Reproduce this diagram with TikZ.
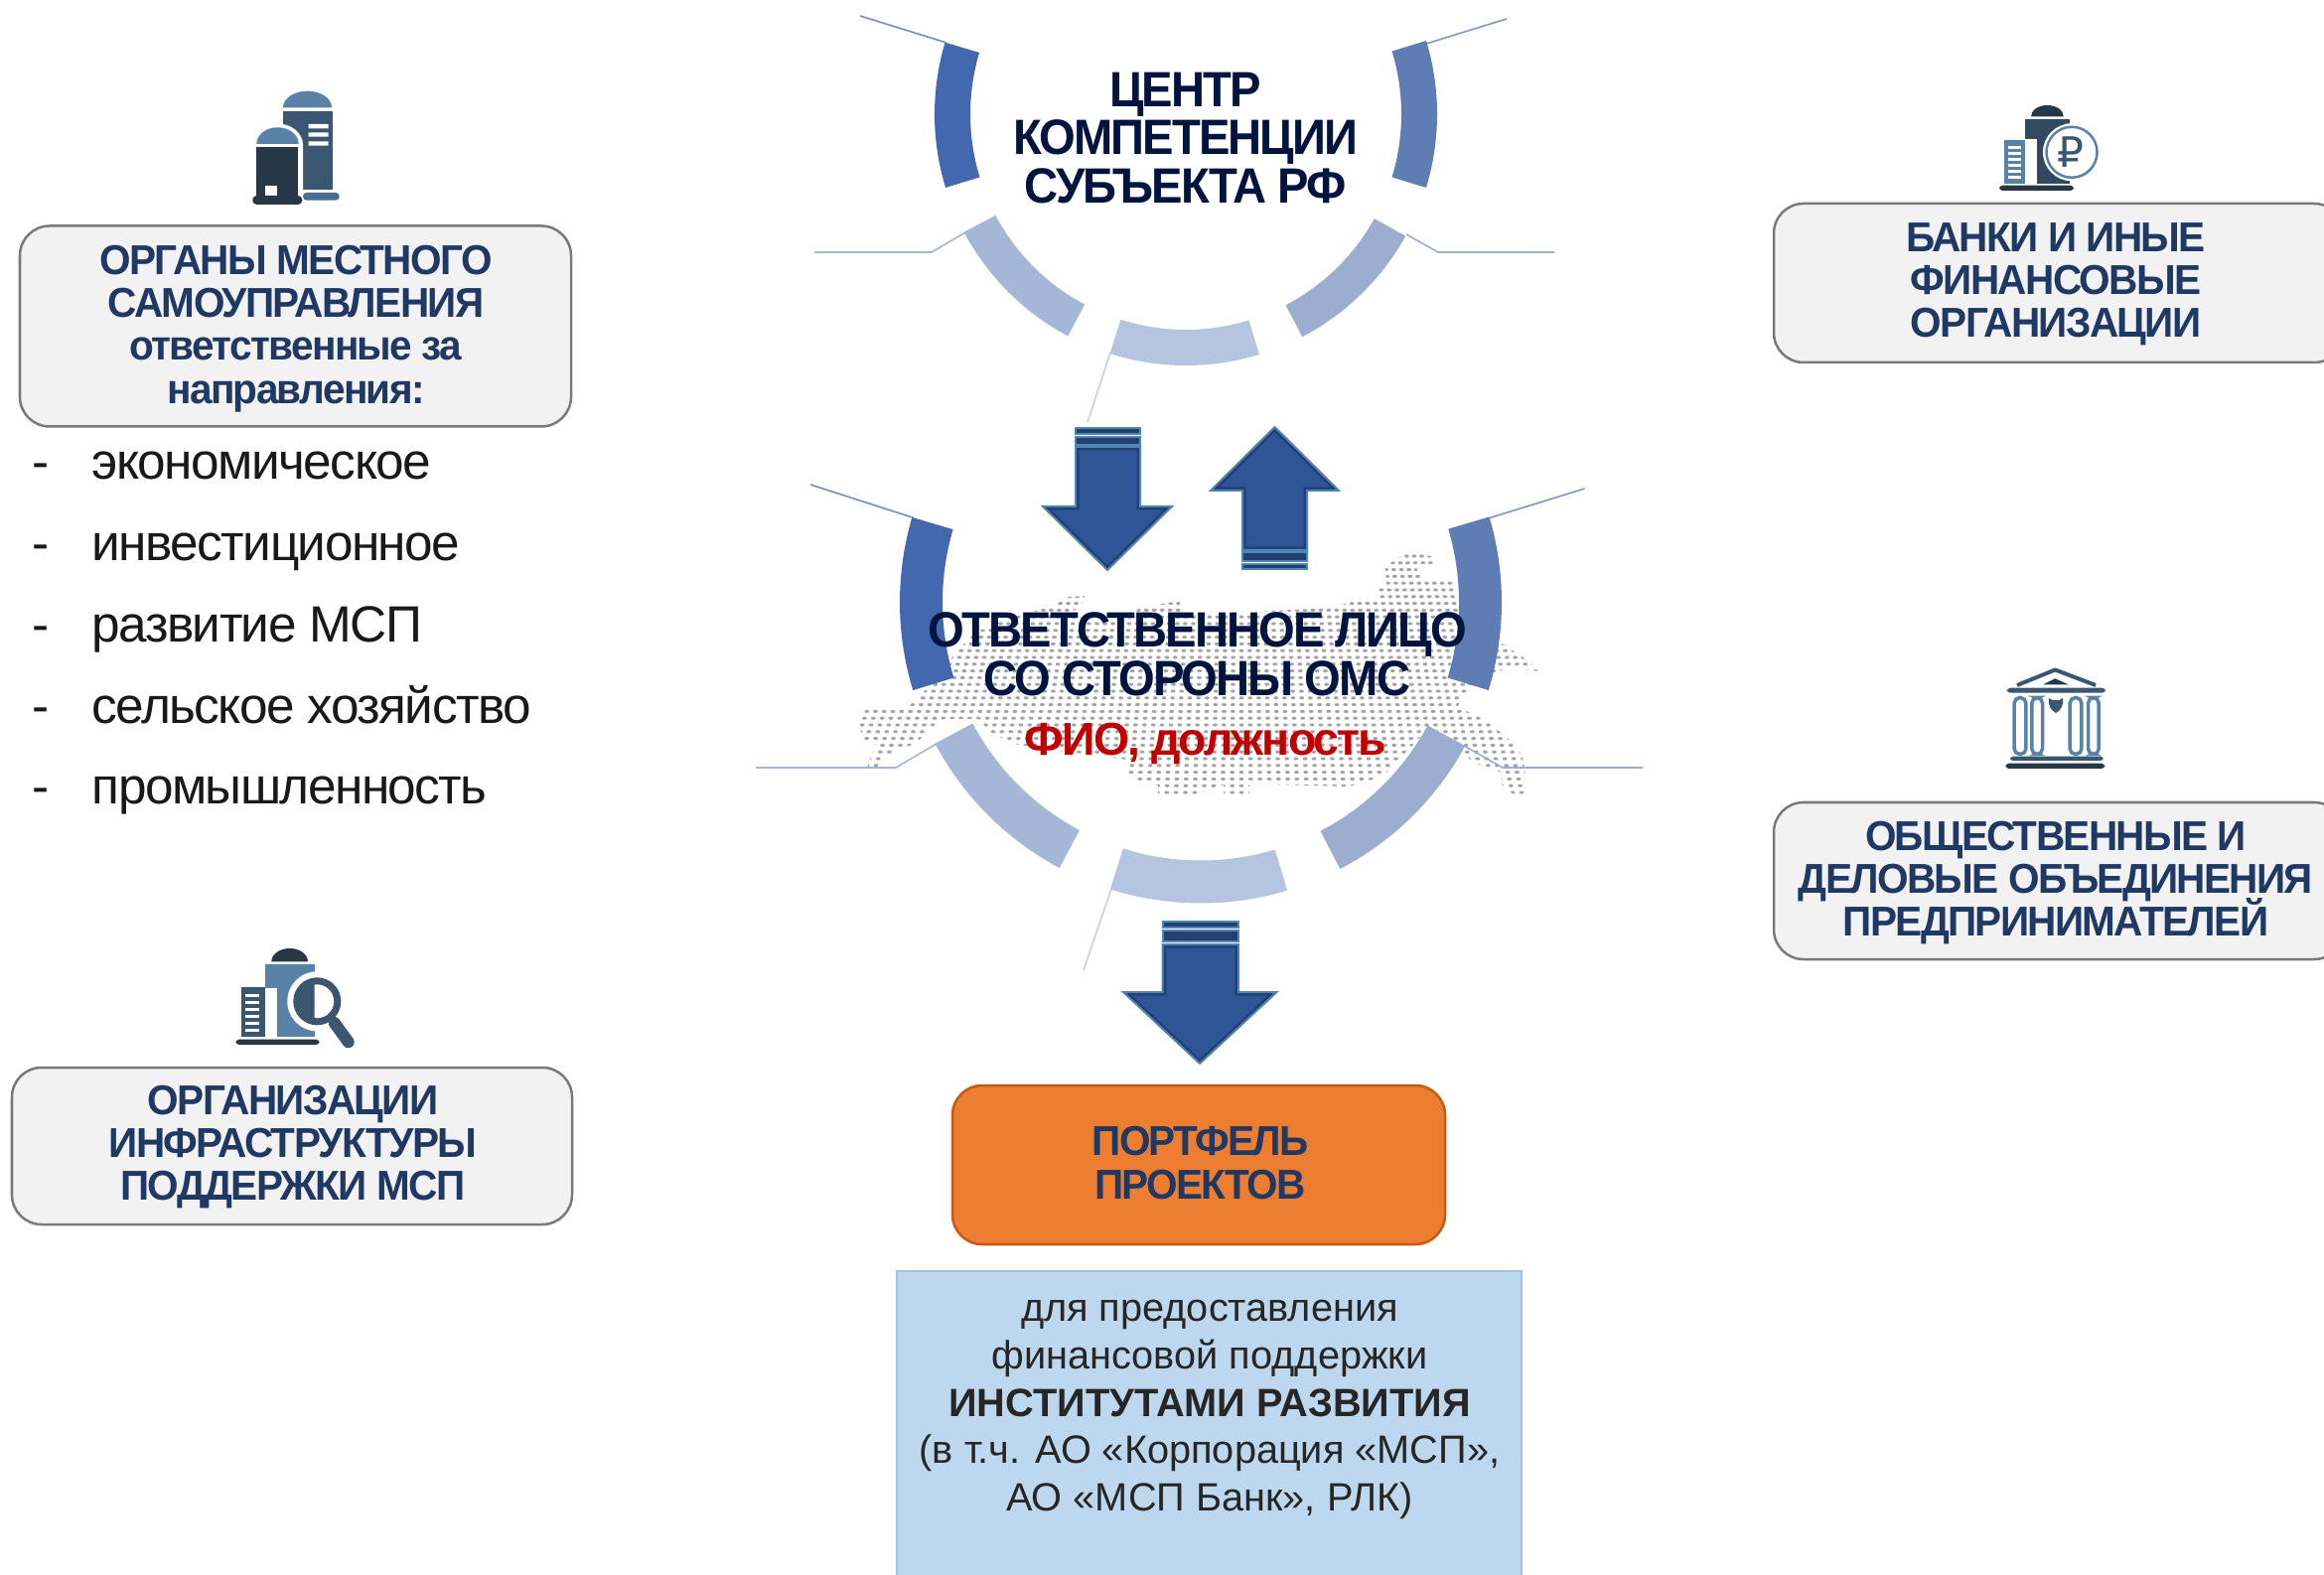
\documentclass[tikz,border=0pt]{standalone}
\usepackage{fontspec}
\setmainfont{Liberation Sans}
\newfontfamily\tb[LetterSpace=-4]{Liberation Sans}
\newfontfamily\tbd[LetterSpace=-4,FakeStretch=0.945]{Liberation Sans}
\newfontfamily\tbn[LetterSpace=-4,FakeStretch=0.965]{Liberation Sans}
\newfontfamily\tr[LetterSpace=-3]{Liberation Sans}
\newfontfamily\symf{DejaVu Sans}
\newcommand\noskiplim{\lineskiplimit -100pt\relax}
\definecolor{navy}{HTML}{1F3864}
\definecolor{deep}{HTML}{00143F}
\definecolor{icdark}{HTML}{263746}
\definecolor{icmid}{HTML}{3B5670}
\definecolor{iclight}{HTML}{5A82A6}
\definecolor{arrowfill}{HTML}{2F5597}
\definecolor{arrowshade}{HTML}{1F3864}
\definecolor{arrowedge}{HTML}{4F86B5}
\definecolor{ringa}{HTML}{4468B0}
\definecolor{ringb}{HTML}{5F7DB5}
\definecolor{ringc}{HTML}{A5B7D7}
\definecolor{ringd}{HTML}{9CAED0}
\definecolor{ringe}{HTML}{B5C4DF}
\tikzset{
  px/.style={line width=#1*0.2845pt},
  graybox/.style={draw=black!52,fill=black!5,px=2.5,rounded corners=8.5pt},
  navytext/.style={text=navy,align=center,inner sep=0pt,font=\noskiplim\tbn\bfseries\fontsize{11.95}{12.3}\selectfont},
  deeptext/.style={text=deep,align=center,inner sep=0pt,font=\noskiplim\tbd\bfseries\fontsize{14.2}{13.9}\selectfont},
  listtext/.style={text=black!90,anchor=base west,inner sep=0pt,font=\tr\fontsize{14.6}{16}\selectfont},
  leader/.style={draw=#1,px=1.6,line join=round},
}
\newcommand\ringseg[7]{%
  \fill[#7] ({#1+#3*cos(#5)},{#2-#3*sin(#5)}) arc[start angle=#5,end angle=#6,radius=#3*0.01cm]
   -- ({#1+#4*cos(#6)},{#2-#4*sin(#6)}) arc[start angle=#6,end angle=#5,radius=#4*0.01cm] -- cycle;}
\newcommand\arrowshape[1]{%
  \begin{scope}\clip #1;\fill[arrowfill] #1;\draw[draw=arrowshade,opacity=.7,px=7] #1;\end{scope}
  \draw[draw=arrowedge,px=2,line join=miter] #1;}
\newcommand\stripbar[4]{\fill[fill=arrowfill!75!black,draw=arrowedge,px=2] (#1,#3) rectangle (#2,#4);}
\begin{document}
\begin{tikzpicture}[x=0.01cm,y=-0.01cm]
\useasboundingbox (0,0) rectangle (2340,1586);
\clip (0,0) rectangle (2340,1586);
\fill[white] (0,0) rectangle (2340,1586);

% dotted map
\begin{scope}
\clip (1418,556) -- (1446,561) -- (1444,568) -- (1424,568) -- (1432,584) -- (1463,584) -- (1470,612) -- (1500,640) -- (1512,648) -- (1534,662) -- (1550,676) -- (1518,672) -- (1480,690) -- (1467,712) -- (1490,722) -- (1508,735) -- (1528,752) -- (1534,766) -- (1538,800) -- (1524,800) -- (1512,790) -- (1512,778) -- (1484,768) -- (1473,758) -- (1435,737) -- (1392,782) -- (1358,792) -- (1280,790) -- (1258,786) -- (1258,801) -- (1232,801) -- (1232,790) -- (1200,801) -- (1166,801) -- (1166,791) -- (1150,787) -- (1133,779) -- (1135,765) -- (1060,755) -- (1020,749) -- (997,737) -- (985,724) -- (950,724) -- (937,733) -- (923,748) -- (893,760) -- (881,775) -- (872,775) -- (882,750) -- (868,743) -- (865,728) -- (872,714) -- (915,711) -- (925,703) -- (958,663) -- (972,647) -- (976,636) -- (1000,632) -- (1006,625) -- (1058,611) -- (1076,601) -- (1092,600) -- (1088,612) -- (1070,618) -- (1100,624) -- (1130,624) -- (1148,612) -- (1188,605) -- (1188,620) -- (1340,612) -- (1362,606) -- (1386,602) -- (1386,592) -- (1396,590) -- (1395,570) -- cycle;
\foreach \r in {0,...,36}{\foreach \c in {-48,...,38}{
   \fill[black!36] ({1250+\c*8.8*(1+(\r-23.5)*0.006)},{560+\r*6.8}) ellipse[x radius=2.4,y radius=1.6];
}}
\end{scope}

% leaders
\draw[leader=ringa!75] (866,16) -- (953,43);
\draw[leader=ringb!80] (1517,19) -- (1436,44);
\draw[leader=ringc] (820,254) -- (938,254) -- (972,234);
\draw[leader=ringd] (1565,254) -- (1448,254) -- (1416,236);
\draw[leader=ringe!80] (1118,355) -- (1095,425);
\draw[leader=ringa!75] (816,488) -- (920,521.5);
\draw[leader=ringb!80] (1595.5,492) -- (1500,521.5);
\draw[leader=ringc] (761,773) -- (902,773) -- (943,749);
\draw[leader=ringd] (1654,773) -- (1513,773) -- (1474,751);
\draw[leader=ringe!80] (1119,895) -- (1091,977);

% top ring
\ringseg{1194}{115}{253}{217}{163.4}{197}{ringa}
\ringseg{1194}{115}{253}{217}{-17}{17}{ringb}
\ringseg{1194}{115}{253}{217}{208}{242}{ringc}
\ringseg{1194}{115}{253}{217}{252.4}{287}{ringe}
\ringseg{1194}{115}{253}{217}{297.6}{331}{ringd}
% lower ring
\ringseg{1209}{606.5}{303}{260}{163.6}{197}{ringa}
\ringseg{1209}{606.5}{303}{260}{-17}{16.5}{ringb}
\ringseg{1209}{606.5}{303}{260}{208}{242}{ringc}
\ringseg{1209}{606.5}{303}{260}{252.5}{286.7}{ringe}
\ringseg{1209}{606.5}{303}{260}{297.6}{331.5}{ringd}

% arrows
\stripbar{1083}{1148}{431}{437}
\stripbar{1083}{1148}{440}{448}
\arrowshape{(1083,450) -- (1148,450) -- (1148,510) -- (1180,510) -- (1115,574) -- (1050,510) -- (1083,510) -- cycle}
\stripbar{1251}{1316}{556}{565}
\stripbar{1251}{1316}{568}{573}
\arrowshape{(1283.5,430) -- (1348,494) -- (1316,494) -- (1316,554) -- (1251,554) -- (1251,494) -- (1219,494) -- cycle}
\stripbar{1170.5}{1247}{928}{934}
\stripbar{1170.5}{1247}{937}{948}
\arrowshape{(1170.5,951) -- (1247,951) -- (1247,999) -- (1285.5,999) -- (1208,1071) -- (1131,999) -- (1170.5,999) -- cycle}

% boxes
\draw[graybox] (20,227.5) rectangle (575,429.5);
\draw[graybox] (12,1075) rectangle (576,1233);
\draw[graybox] (1786,205) rectangle (2360,365);
\draw[graybox] (1786,808) rectangle (2360,966);
\draw[fill={rgb,255:red,237;green,125;blue,49},draw={rgb,255:red,197;green,90;blue,17},px=2.5,rounded corners=8.5pt] (959,1093) rectangle (1455,1253);
\draw[fill={rgb,255:red,189;green,215;blue,238},draw={rgb,255:red,157;green,195;blue,230},px=2] (903,1280) rectangle (1532,1600);

% texts
\node[deeptext] (centre) at (1193.5,139) {ЦЕНТР\\КОМПЕТЕНЦИИ\\СУБЪЕКТА РФ};
\node[deeptext] (resp) at (1205.5,658.5) {ОТВЕТСТВЕННОЕ ЛИЦО\\СО СТОРОНЫ ОМС};
\node[anchor=base,inner sep=0pt,text={rgb,255:red,192;green,0;blue,0},font=\tb\bfseries\fontsize{13.2}{14}\selectfont] (fio) at (1214,761) {ФИО, должность};
\node[navytext] (omsu) at (298,331) {ОРГАНЫ МЕСТНОГО\\САМОУПРАВЛЕНИЯ\\ответственные за\\направления:};
\node[navytext] (infra) at (295,1155) {ОРГАНИЗАЦИИ\\ИНФРАСТРУКТУРЫ\\ПОДДЕРЖКИ МСП};
\node[navytext] (banks) at (2070,286) {БАНКИ И ИНЫЕ\\ФИНАНСОВЫЕ\\ОРГАНИЗАЦИИ};
\node[navytext] (unions) at (2070,889) {ОБЩЕСТВЕННЫЕ И\\ДЕЛОВЫЕ ОБЪЕДИНЕНИЯ\\ПРЕДПРИНИМАТЕЛЕЙ};
\node[navytext] (portf) at (1208.5,1171) {ПОРТФЕЛЬ\\ПРОЕКТОВ};
\node[align=center,inner sep=0pt,text=black!85,font=\fontsize{11.3}{13.57}\selectfont] (blue) at (1218,1419.5) {для предоставления\\финансовой поддержки\\\textbf{ИНСТИТУТАМИ РАЗВИТИЯ}\\(в т.ч. АО «Корпорация «МСП»,\\АО «МСП Банк», РЛК)};
\foreach \i/\t in {0/экономическое,1/инвестиционное,2/развитие МСП,3/сельское хозяйство,4/промышленность}{
  \node[listtext] (li\i) at (92,{483+\i*81.7}) {\t};
  \node[listtext] (da\i) at (32,{483+\i*81.7}) {-};
}

% icon: silos
\fill[iclight] (285,108.3) arc[start angle=180,end angle=0,x radius=0.245cm,y radius=0.166cm] -- cycle;
\fill[icmid] (285.3,111.7) rectangle (334.7,190.7);
\fill[white] (310.7,125) rectangle (330.7,129.3) (310.7,133.3) rectangle (330.7,137.7) (310.7,142.3) rectangle (330.7,146.7);
\fill[iclight!85!black,rounded corners=1pt] (305,194) rectangle (341.7,201.7);
\fill[white] (254,146) arc[start angle=180,end angle=0,x radius=0.255cm,y radius=0.215cm] -- (305,200) -- (254,200) -- cycle;
\fill[iclight] (258.3,145) arc[start angle=180,end angle=0,x radius=0.212cm,y radius=0.167cm] -- cycle;
\fill[icdark] (258,148.3) rectangle (300,198);
\fill[white] (267,187.3) rectangle (279.3,197.3);
\fill[icdark,rounded corners=1.2pt] (254.3,197) rectangle (304.3,206);

% icon: bank
\fill[icdark] (2045,117.3) arc[start angle=180,end angle=0,x radius=0.1635cm,y radius=0.113cm] -- cycle;
\fill[icmid!85!black] (2039.3,120) rectangle (2084,185);
\fill[white] (2039.3,140) rectangle (2051,185);
\fill[iclight] (2018.3,140.7) rectangle (2039.3,185);
\foreach \i in {0,...,5}{\fill[white] (2021.7,{147.3+\i*6}) rectangle (2035,{150.3+\i*6});}
\fill[white] (2086,153.3) circle[radius=0.29cm];
\draw[draw=iclight,fill=white,px=2.5] (2086,153.3) circle[radius=0.255cm];
\node[inner sep=0pt,text=icmid,font=\symf\fontsize{12}{12}\selectfont] (rub) at (2085,153) {₽};
\fill[icdark,rounded corners=1pt] (2013,186.7) rectangle (2088,192);

% icon: portico
\draw[draw=icmid,px=4,line join=round] (2031,690) -- (2069.3,674.5) -- (2110,690);
\fill[icdark] (2057.3,689.3) -- (2069.3,683.3) -- (2082.7,689.3) -- cycle;
\fill[icmid,rounded corners=1pt] (2020.7,692.7) rectangle (2120,697.7);
\foreach \a/\b in {2027.3/2040.7,2045/2057.3,2083.3/2096.7,2101.7/2114}{
  \draw[draw=iclight,px=3.5,rounded corners=1.6pt] (\a+.8,702.5) rectangle (\b-.8,759.5);
}
\fill[icmid] (2063,703) .. controls (2062,711) and (2065,715) .. (2070,718) .. controls (2075,715) and (2078,711) .. (2077,703) .. controls (2074,706) and (2066,706) .. (2063,703) -- cycle;
\fill[icmid,rounded corners=.8pt] (2024,761.7) rectangle (2117.7,766);
\fill[icdark,rounded corners=1pt] (2019.3,768.7) rectangle (2119.3,774);

% icon: magnifier
\fill[icdark] (273.3,968.3) arc[start angle=180,end angle=0,x radius=0.1835cm,y radius=0.133cm] -- cycle;
\fill[iclight] (266.7,970.7) rectangle (317.3,1044);
\fill[white] (266.7,995) rectangle (279.3,1044);
\fill[icmid] (242.7,994) rectangle (266.7,1044);
\foreach \i in {0,...,5}{\fill[white] (246.7,{1000.5+\i*7.1}) rectangle (261.3,{1003.5+\i*7.1});}
\fill[white] (319.3,1008.3) circle[radius=0.30cm];
\draw[draw=icmid,line cap=round,px=12] (336.7,1030) -- (350.7,1049.3);
\draw[draw=icmid,fill=white,px=7] (319.3,1008.3) circle[radius=0.205cm];
\fill[icmid] (316.5,990) arc[start angle=90,end angle=270,radius=0.19cm] -- cycle;
\fill[icdark,rounded corners=1pt] (237.3,1046.7) rectangle (321.7,1052);
\end{tikzpicture}
\end{document}
